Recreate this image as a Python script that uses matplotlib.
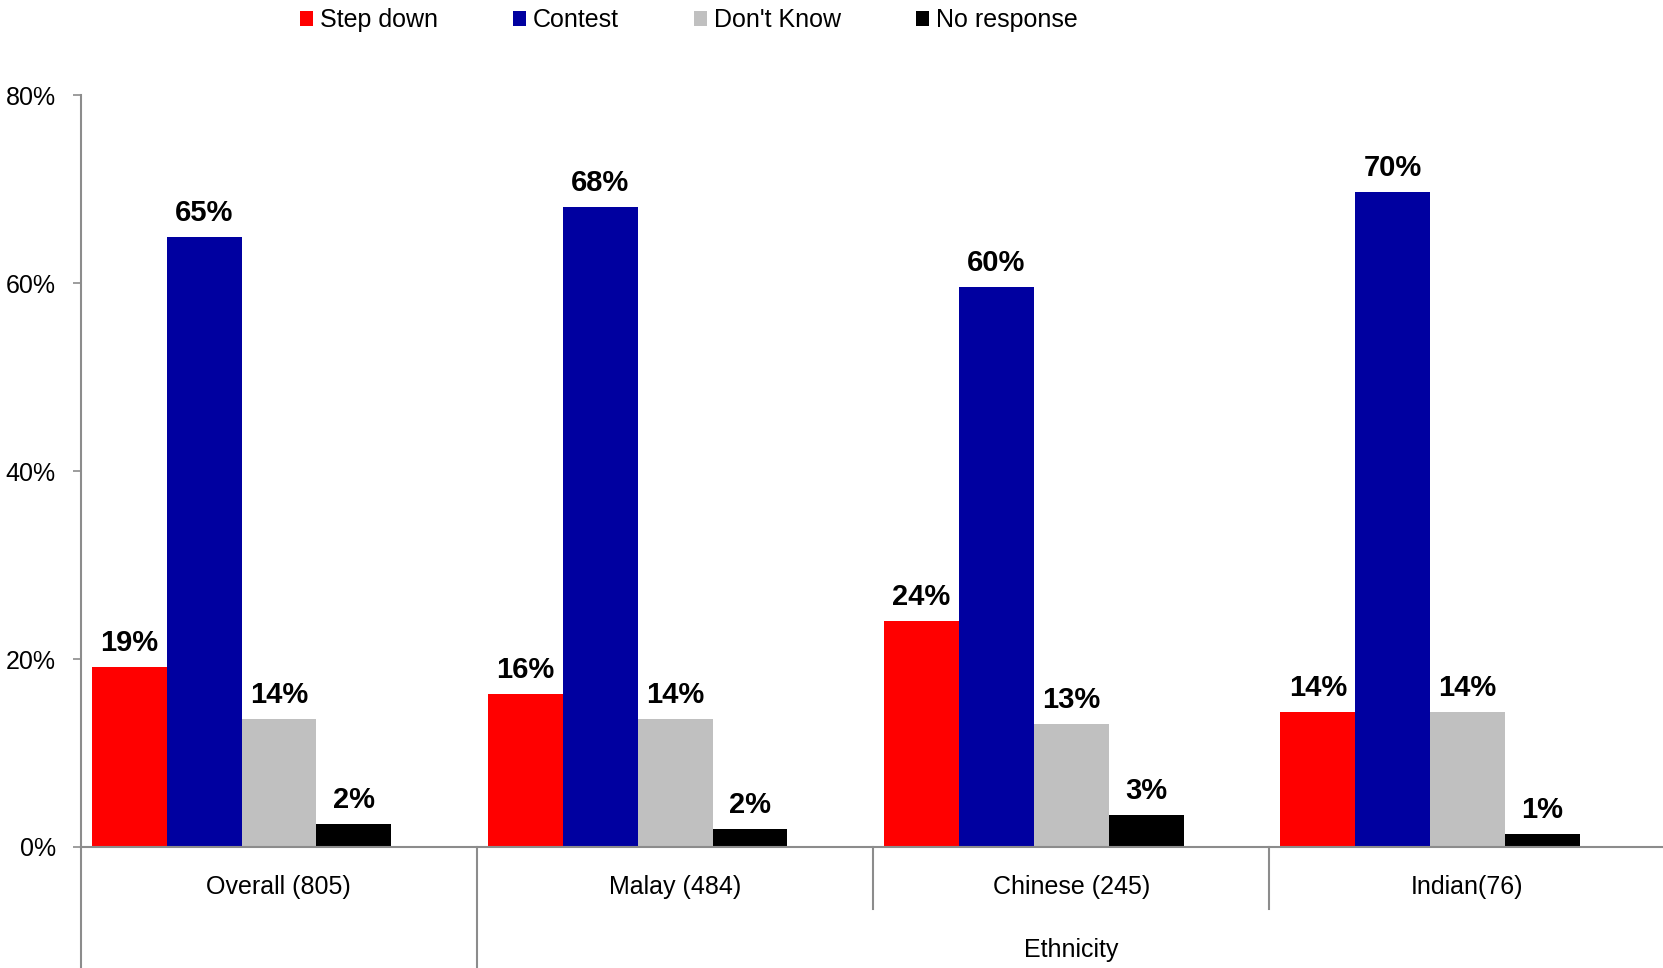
import numpy as np
import matplotlib
matplotlib.use("Agg")
import matplotlib.pyplot as plt
import matplotlib.transforms as mtransforms
from matplotlib import font_manager

# -----------------------------
# DATA
# -----------------------------
GROUPS = ["Overall (805)", "Malay (484)", "Chinese (245)", "Indian(76)"]
SERIES = ["Step down", "Contest", "Don't Know", "No response"]
COLORS = ["#FF0000", "#0000A0", "#C0C0C0", "#000000"]

step_down = [19.2, 16.3, 24.1, 14.4]
contest = [64.9, 68.1, 59.6, 69.7]
dont_know = [13.6, 13.6, 13.1, 14.4]
no_response = [2.4, 1.9, 3.4, 1.4]

SUPER_LABEL = "Ethnicity"
Y_TICKS = [0, 20, 40, 60, 80]

# -----------------------------
# FONT
# -----------------------------
names = {f.name for f in font_manager.fontManager.ttflist}
FONT = "Liberation Sans Narrow" if "Liberation Sans Narrow" in names else "Liberation Sans"
plt.rcParams["font.family"] = [FONT, "DejaVu Sans"]

AXIS_GRAY = "#8C8C8C"

fig = plt.figure(figsize=(16.63, 9.68), dpi=100)
ax = fig.add_axes([0.0485, 0.125, 0.953, 0.7764])

values = [step_down, contest, dont_know, no_response]
x = np.arange(len(GROUPS))
bar_w = 0.189
offset = 0.028

handles = []
for k, (name, vals, col) in enumerate(zip(SERIES, values, COLORS)):
    xs = x + offset + k * bar_w
    bars = ax.bar(xs, vals, width=bar_w, align="edge", color=col, label=name, zorder=2)
    handles.append(bars)
    for xi, v in zip(xs, vals):
        ax.annotate(f"{v:.0f}%", (xi + bar_w / 2, v), xytext=(0, 11.5),
                    textcoords="offset points", ha="center", va="baseline",
                    fontsize=21, fontweight="bold")

ax.set_xlim(0, 4)
ax.set_ylim(0, 80)
ax.set_yticks(Y_TICKS)
ax.set_yticklabels([f"{t}%" for t in Y_TICKS], fontsize=18)
ax.set_xticks([])
ax.tick_params(axis="y", direction="out", length=6, width=1.2, color=AXIS_GRAY, pad=12)

for s in ["top", "right"]:
    ax.spines[s].set_visible(False)
for s in ["left", "bottom"]:
    ax.spines[s].set_color(AXIS_GRAY)
    ax.spines[s].set_linewidth(1.5)

# multi-level category axis below the plot
trans = mtransforms.blended_transform_factory(ax.transData, ax.transAxes)
ax.plot([0, 0], [0, -0.17], transform=trans, color=AXIS_GRAY, lw=1.5, clip_on=False)
ax.plot([1, 1], [0, -0.17], transform=trans, color=AXIS_GRAY, lw=1.5, clip_on=False)
for xb in [2, 3]:
    ax.plot([xb, xb], [0, -0.0825], transform=trans, color=AXIS_GRAY, lw=1.5, clip_on=False)

for xi, g in zip(x, GROUPS):
    ax.text(xi + 0.5, -0.053, g, transform=trans, ha="center", va="center", fontsize=18)
ax.text(2.5, -0.137, SUPER_LABEL, transform=trans, ha="center", va="center", fontsize=18)

fig.legend(handles=handles, labels=SERIES, loc="center", bbox_to_anchor=(0.414, 0.979),
           ncol=4, frameon=False, fontsize=18, handlelength=0.55, handleheight=0.55,
           handletextpad=0.25, columnspacing=3.0)

fig.savefig("out.png", dpi=100)
